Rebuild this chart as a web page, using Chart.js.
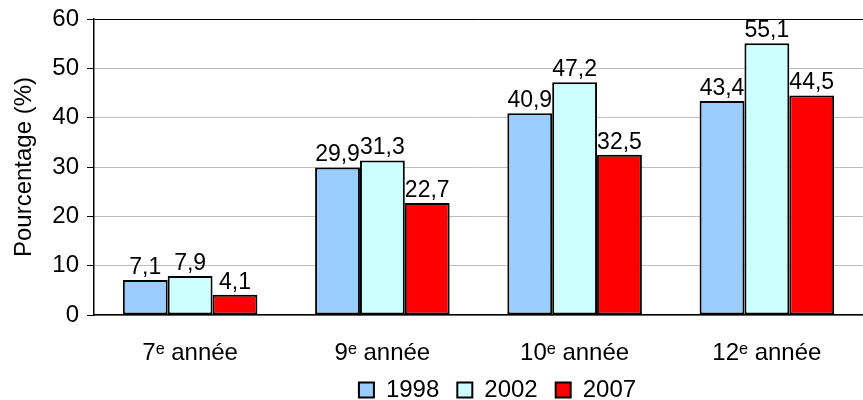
<!DOCTYPE html>
<html>
<head>
<meta charset="utf-8">
<script src="https://cdn.jsdelivr.net/npm/chart.js@4"></script>
<style>
  html, body { margin: 0; padding: 0; background: #fff; }
  #box { width: 863px; height: 400px; }
</style>
</head>
<body>
<div id="box"><canvas id="grafica"></canvas></div>
<script>
const categorias = ['7ᵉ année', '9ᵉ année', '10ᵉ année', '12ᵉ année']
const annees = ['1998', '2002', '2007']
const valeurs1998 = [7.1, 29.9, 40.9, 43.4]
const valeurs2002 = [7.9, 31.3, 47.2, 55.1]
const valeurs2007 = [4.1, 22.7, 32.5, 44.5]
const ticksY = [0, 10, 20, 30, 40, 50, 60]

const police = "'Liberation Sans', Arial, sans-serif"
const taille = 24

//? etiquettes au-dessus des barres
const etiquettes = {
    id: 'etiquettes',
    afterDatasetsDraw(chart) {
        const ctx = chart.ctx
        ctx.save()
        ctx.font = '23px ' + police
        ctx.fillStyle = '#000'
        ctx.textAlign = 'center'
        ctx.textBaseline = 'bottom'
        chart.data.datasets.forEach((ds, i) => {
            chart.getDatasetMeta(i).data.forEach((bar, j) => {
                ctx.fillText(String(ds.data[j]).replace('.', ','), bar.x, bar.y - 1)
            })
        })
        ctx.restore()
    }
}

//? decaler la legende
const decalage = {
    id: 'decalage',
    afterLayout(chart) {
        chart.legend.left += 66
        chart.legend.right += 66
        chart.legend.top -= 7
        chart.legend.bottom -= 7
    }
}

const grafica = new Chart(document.getElementById('grafica'), {
    type: 'bar',
    data: {
        labels: categorias,
        datasets: [
            { label: annees[0], data: valeurs1998, backgroundColor: '#99CCFF' },
            { label: annees[1], data: valeurs2002, backgroundColor: '#CCFFFF' },
            { label: annees[2], data: valeurs2007, backgroundColor: '#FF0000' }
        ].map(d => Object.assign(d, { borderColor: '#000', borderWidth: 2, borderSkipped: false }))
    },
    options: {
        responsive: true,
        maintainAspectRatio: false,
        animation: false,
        categoryPercentage: 0.7,
        barPercentage: 1,
        layout: { padding: { top: 19, right: 0, left: 0, bottom: -19 } },
        plugins: {
            tooltip: { enabled: false },
            legend: {
                position: 'bottom',
                labels: {
                    font: { family: police, size: taille },
                    color: '#000',
                    boxWidth: 15,
                    boxHeight: 15,
                    padding: 18,
                    useBorderRadius: false
                }
            }
        },
        scales: {
            x: {
                grid: { display: false, drawTicks: false },
                border: { color: '#000', width: 1.5 },
                ticks: { font: { family: police, size: taille }, color: '#000', padding: 24, maxRotation: 0 },
                afterFit(scale) { scale.height = 52 }
            },
            y: {
                min: 0,
                max: 60,
                afterBuildTicks(scale) { scale.ticks = ticksY.map(v => ({ value: v })) },
                grid: {
                    color: ctx => (ctx.tick && (ctx.tick.value === 60) ? '#000' : '#BFBFBF'),
                    tickColor: '#000',
                    tickLength: 7
                },
                border: { color: '#000', width: 1.5 },
                ticks: { font: { family: police, size: taille }, color: '#000', padding: 8 },
                title: {
                    display: true,
                    text: 'Pourcentage (%)',
                    font: { family: police, size: taille },
                    color: '#000',
                    padding: { top: 10, bottom: 0 }
                },
                afterFit(scale) {
                    scale.width = 94
                    scale.paddingTop = 0
                    scale.paddingBottom = 0
                }
            }
        }
    },
    plugins: [etiquettes, decalage]
})
</script>
</body>
</html>
